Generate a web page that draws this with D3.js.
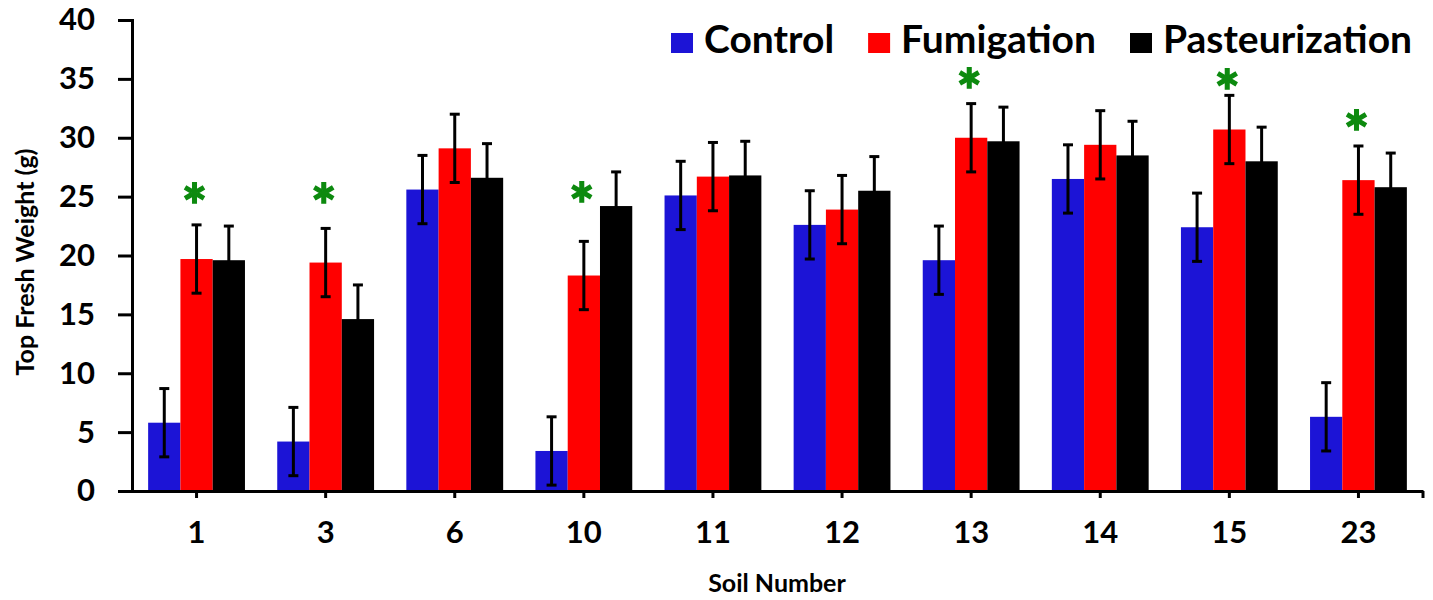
<!DOCTYPE html>
<html lang="en">
<head>
  <title>Top Fresh Weight</title>
  <meta charset="utf-8">
  <script src="https://d3js.org/d3.v7.min.js"></script>
  <style>
    body { margin: 0; background: #fff; }
    text { font-family: Lato, "Open Sans", sans-serif; font-weight: bold; }
  </style>
</head>
<body>

<svg id="chart" width="1433" height="600"></svg>

<script>
// values
var soils = ["1", "3", "6", "10", "11", "12", "13", "14", "15", "23"];
var seriesNames = ["Control", "Fumigation", "Pasteurization"];
var seriesColors = ["#1c14d6", "#ff0000", "#000000"];

var control        = [5.8, 4.2, 25.6, 3.4, 25.1, 22.6, 19.6, 26.5, 22.4, 6.3];
var fumigation     = [19.7, 19.4, 29.1, 18.3, 26.7, 23.9, 30.0, 29.4, 30.7, 26.4];
var pasteurization = [19.6, 14.6, 26.6, 24.2, 26.8, 25.5, 29.7, 28.5, 28.0, 25.8];

var controlErr        = [2.9, 2.9, 2.9, 2.9, 2.9, 2.9, 2.9, 2.9, 2.9, 2.9];
var fumigationErr     = [2.9, 2.9, 2.9, 2.9, 2.9, 2.9, 2.9, 2.9, 2.9, 2.9];
var pasteurizationErr = [2.9, 2.9, 2.9, 2.9, 2.9, 2.9, 2.9, 2.9, 2.9, 2.9];

// significance stars (height in g), null = none
var starAt = [25.0, 25.0, null, 25.1, null, null, 34.8, null, 34.7, 31.2];

var yTicks = [0, 5, 10, 15, 20, 25, 30, 35, 40];

var series = [control, fumigation, pasteurization];
var errors = [controlErr, fumigationErr, pasteurizationErr];

var svg = d3.select("#chart");

var x = d3.scaleBand()
    .domain(soils)
    .range([132, 1423])
    .paddingInner(0.25)
    .paddingOuter(0.125);

var xSub = d3.scaleBand()
    .domain(seriesNames)
    .range([0, x.bandwidth()]);

var y = d3.scaleLinear()
    .domain([0, 40])
    .range([491, 20]);

// bars + error bars
var rows = [];
soils.forEach(function(s, i) {
    seriesNames.forEach(function(n, j) {
        rows.push({soil: s, name: n, color: seriesColors[j], v: series[j][i], e: errors[j][i]});
    });
});

svg.append("g").selectAll("rect")
    .data(rows)
    .enter()
    .append("rect")
    .attr("x", function(d) { return x(d.soil) + xSub(d.name); })
    .attr("y", function(d) { return y(d.v); })
    .attr("width", xSub.bandwidth())
    .attr("height", function(d) { return y(0) - y(d.v); })
    .attr("fill", function(d) { return d.color; });

var eb = svg.append("g")
    .attr("stroke", "#000")
    .attr("stroke-width", 3)
    .selectAll("g")
    .data(rows)
    .enter()
    .append("g")
    .attr("transform", function(d) { return "translate(" + (x(d.soil) + xSub(d.name) + xSub.bandwidth() / 2) + ",0)"; });

eb.append("line")
    .attr("y1", function(d) { return y(d.v - d.e); })
    .attr("y2", function(d) { return y(d.v + d.e); });
eb.append("line")
    .attr("x1", -5).attr("x2", 5)
    .attr("y1", function(d) { return y(d.v + d.e); })
    .attr("y2", function(d) { return y(d.v + d.e); });
eb.append("line")
    .attr("x1", -5).attr("x2", 5)
    .attr("y1", function(d) { return y(d.v - d.e); })
    .attr("y2", function(d) { return y(d.v - d.e); });

// stars over the fumigation bar
var stars = svg.append("g").selectAll("text")
    .data(soils.map(function(s, i) { return {soil: s, v: starAt[i]}; }).filter(function(d) { return d.v != null; }))
    .enter()
    .append("text")
    .attr("x", function(d) { return x(d.soil) + xSub("Fumigation") + xSub.bandwidth() / 2 - 2; })
    .attr("y", function(d) { return y(d.v); })
    .attr("text-anchor", "middle")
    .attr("fill", "#0d8a0f")
    .attr("stroke", "#0d8a0f")
    .attr("stroke-width", 1.5)
    .style("font-size", "60px")
    .text("*");
// centre the glyph on its value
stars.each(function() {
    var b = this.getBBox();
    var cy = +d3.select(this).attr("y");
    d3.select(this).attr("transform", "translate(0," + (cy - (b.y + b.height * 0.38)) + ")");
});

// axes
var yAxis = svg.append("g")
    .attr("transform", "translate(132,0)")
    .call(d3.axisLeft(y).tickValues(yTicks).tickSize(14).tickPadding(23));

var xAxis = svg.append("g")
    .attr("transform", "translate(0,491)")
    .call(d3.axisBottom(x).tickSize(7).tickSizeOuter(0));
xAxis.append("line")
    .attr("x1", 1423).attr("x2", 1423)
    .attr("y1", 0).attr("y2", 7);

[yAxis, xAxis].forEach(function(a) {
    a.selectAll("path, line").attr("stroke", "#000").attr("stroke-width", 3);
    a.selectAll("text").attr("fill", "#000").style("font-size", "31px");
});
xAxis.selectAll(".tick text").attr("y", 52).attr("dy", null);

// axis titles
svg.append("text")
    .attr("x", 777)
    .attr("y", 592)
    .attr("text-anchor", "middle")
    .style("font-size", "25px")
    .text("Soil Number");

svg.append("text")
    .attr("transform", "translate(34,262) rotate(-90)")
    .attr("text-anchor", "middle")
    .style("font-size", "25px")
    .text("Top Fresh Weight (g)");

// legend
var legend = svg.append("g");
var lx = 671;
seriesNames.forEach(function(n, j) {
    legend.append("rect")
        .attr("x", lx).attr("y", 33)
        .attr("width", 22).attr("height", 20)
        .attr("fill", seriesColors[j]);
    var t = legend.append("text")
        .attr("x", lx + 33).attr("y", 53)
        .style("font-size", "39px")
        .text(n);
    lx += 33 + t.node().getComputedTextLength() + 34;
});
</script>

</body>
</html>
